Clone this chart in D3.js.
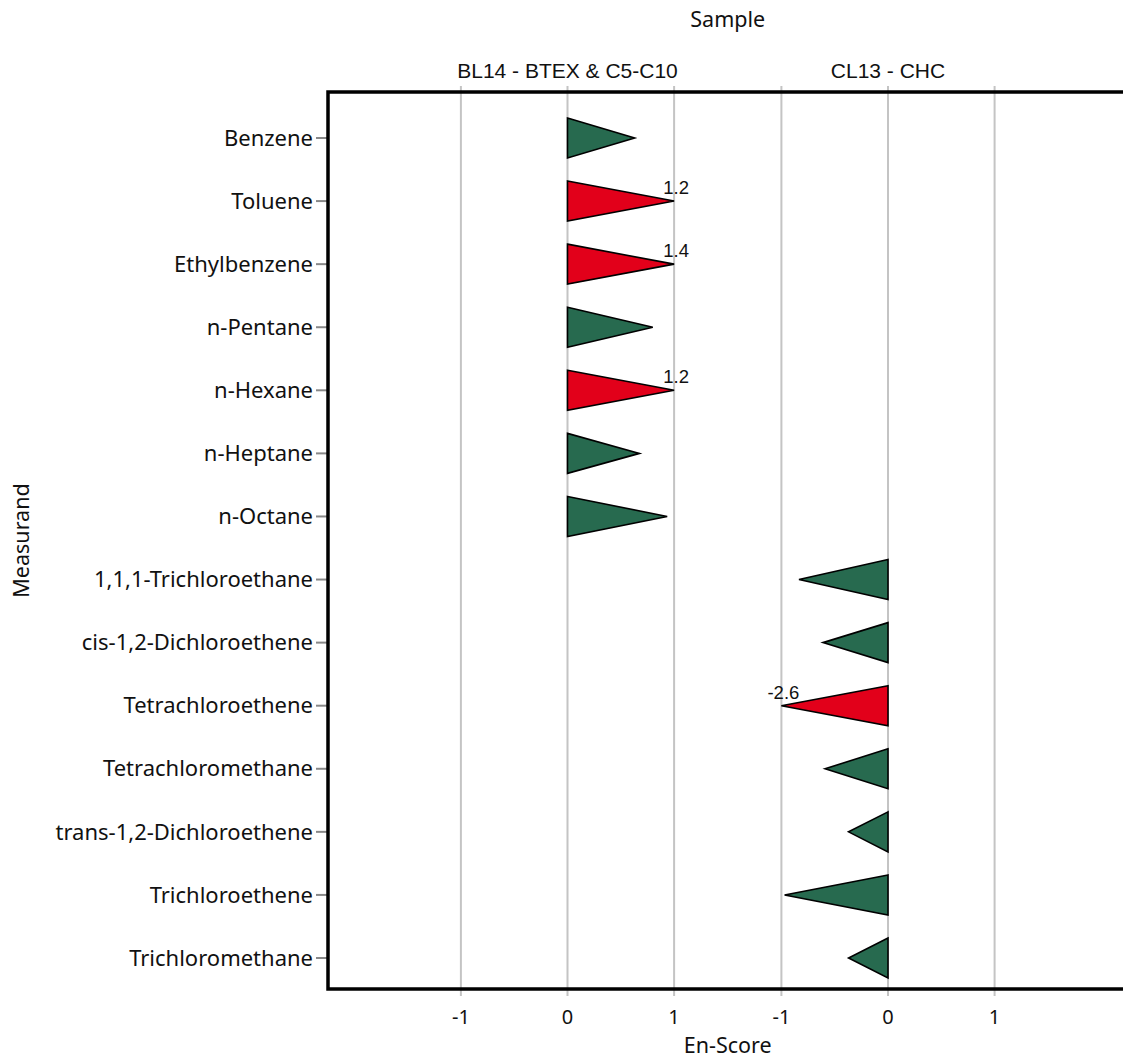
<!DOCTYPE html>
<html>
<head>
<meta charset="utf-8">
<script src="https://cdn.jsdelivr.net/npm/d3@7"></script>
<style>
  html, body { margin: 0; padding: 0; background: #fff; }
  svg { display: block; }
</style>
</head>
<body>
<svg id="chart" width="1123" height="1061"></svg>
<script>
// ---- data ----
const samples = ["BL14 - BTEX & C5-C10", "CL13 - CHC"];
const measurands = [
  "Benzene", "Toluene", "Ethylbenzene", "n-Pentane", "n-Hexane", "n-Heptane", "n-Octane",
  "1,1,1-Trichloroethane", "cis-1,2-Dichloroethene", "Tetrachloroethene",
  "Tetrachloromethane", "trans-1,2-Dichloroethene", "Trichloroethene", "Trichloromethane"
];
const measurandSample = [0, 0, 0, 0, 0, 0, 0, 1, 1, 1, 1, 1, 1, 1];
const enScores = [0.63, 1.2, 1.4, 0.80, 1.2, 0.675, 0.935, -0.835, -0.61, -2.6, -0.59, -0.37, -0.97, -0.37];
const xTicks = [-1, 0, 1];

// ---- layout ----
const svg = d3.select("#chart");
const plotLeft = 328, plotTop = 92, plotBottom = 989, plotRight = 1130;
const facetCenters = [567.5, 888];
const unit = 106.6;
const green = "#276a4f", red = "#e2001a";
const sans = "Noto Sans, Open Sans, sans-serif";
const arial = "Liberation Sans, Arial, sans-serif";
const fs = 21.5;

const xScales = facetCenters.map(c => d3.scaleLinear().domain([-1, 1]).range([c - unit, c + unit]));
const y = d3.scalePoint().domain(measurands).range([plotTop + 46, plotBottom - 31]);

// gridlines + x ticks + facet headers
samples.forEach((s, i) => {
  const x = xScales[i];
  const g = svg.append("g");
  g.selectAll("line.grid").data(xTicks).join("line")
    .attr("x1", d => x(d)).attr("x2", d => x(d))
    .attr("y1", plotTop - 6).attr("y2", plotBottom + 7)
    .attr("stroke", "#c4c4c4").attr("stroke-width", 2);
  g.selectAll("text.tick").data(xTicks).join("text")
    .attr("x", d => x(d)).attr("y", 1024)
    .attr("text-anchor", "middle")
    .attr("font-family", sans)
    .attr("font-size", 20).attr("fill", "#111")
    .text(d => String(d));
  svg.append("text")
    .attr("x", x(0)).attr("y", 78)
    .attr("text-anchor", "middle")
    .attr("font-family", arial)
    .attr("font-size", 21).attr("fill", "#111")
    .text(s);
});

// y axis ticks and labels
const yg = svg.append("g");
yg.selectAll("line").data(measurands).join("line")
  .attr("x1", plotLeft - 12).attr("x2", plotLeft)
  .attr("y1", d => y(d)).attr("y2", d => y(d))
  .attr("stroke", "#888").attr("stroke-width", 2);
yg.selectAll("text").data(measurands).join("text")
  .attr("x", plotLeft - 15).attr("y", d => y(d))
  .attr("dy", "0.35em")
  .attr("text-anchor", "end")
  .attr("font-family", sans)
  .attr("font-size", 22).attr("fill", "#111")
  .text(d => d);

// triangles
const halfH = 20;
const rows = measurands.map((m, i) => ({ m, s: measurandSample[i], v: enScores[i] }));
svg.append("g").selectAll("path").data(rows).join("path")
  .attr("d", d => {
    const x = xScales[d.s];
    const vc = Math.max(-1, Math.min(1, d.v));
    const yc = y(d.m);
    return `M${x(0)},${yc - halfH}L${x(vc)},${yc}L${x(0)},${yc + halfH}Z`;
  })
  .attr("fill", d => Math.abs(d.v) > 1 ? red : green)
  .attr("stroke", "#000").attr("stroke-width", 1.6)
  .attr("stroke-linejoin", "miter");

// value labels for clipped values
svg.append("g").selectAll("text").data(rows.filter(d => Math.abs(d.v) > 1)).join("text")
  .attr("x", d => xScales[d.s](Math.max(-1, Math.min(1, d.v))) + 2)
  .attr("y", d => y(d.m) - 7)
  .attr("text-anchor", "middle")
  .attr("font-family", arial)
  .attr("font-size", 18.5).attr("fill", "#111")
  .text(d => d.v.toFixed(1));

// frame
svg.append("path")
  .attr("d", `M${plotRight},${plotTop}H${plotLeft}V${plotBottom}H${plotRight}`)
  .attr("fill", "none").attr("stroke", "#000").attr("stroke-width", 3.5);

// axis titles
const mid = (facetCenters[0] + facetCenters[1]) / 2;
svg.append("text").attr("x", mid).attr("y", 27).attr("text-anchor", "middle")
  .attr("font-family", sans).attr("font-size", fs).attr("fill", "#111")
  .text("Sample");
svg.append("text").attr("x", mid).attr("y", 1053).attr("text-anchor", "middle")
  .attr("font-family", sans).attr("font-size", fs).attr("fill", "#111")
  .text("En-Score");
svg.append("text").attr("transform", `translate(29,${(plotTop + plotBottom) / 2}) rotate(-90)`)
  .attr("text-anchor", "middle")
  .attr("font-family", sans).attr("font-size", fs).attr("fill", "#111")
  .text("Measurand");
</script>
</body>
</html>
